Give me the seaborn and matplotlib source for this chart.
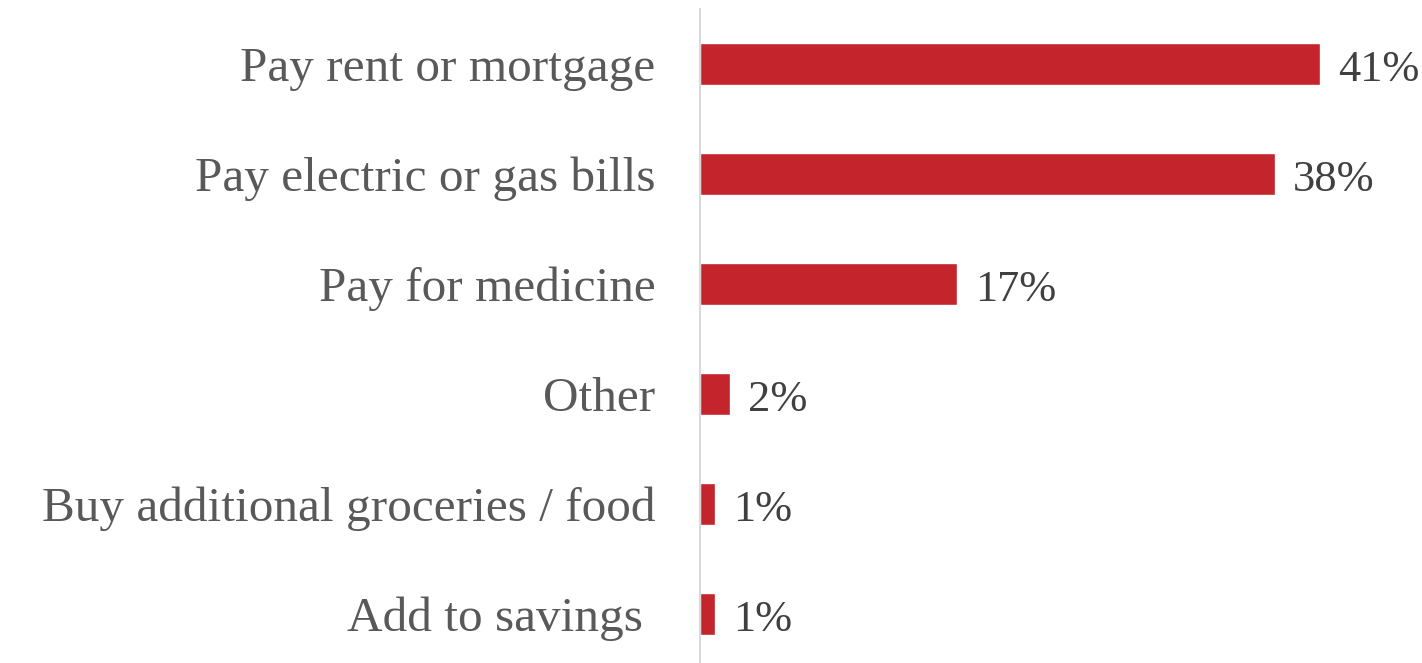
import matplotlib
matplotlib.use("Agg")
import matplotlib.pyplot as plt
import seaborn as sns
import pandas as pd

categories = [
    "Pay rent or mortgage",
    "Pay electric or gas bills",
    "Pay for medicine",
    "Other",
    "Buy additional groceries / food",
    "Add to savings ",
]
values = [41, 38, 17, 2, 1, 1]

df = pd.DataFrame({"category": categories, "value": values})

sns.set_theme(style="white")
plt.rcParams["font.family"] = ["Liberation Serif", "DejaVu Serif"]

fig = plt.figure(figsize=(14.22, 6.63), dpi=100)
ax = fig.add_axes([700 / 1422, -6 / 663, 722 / 1422, 660 / 663])

sns.barplot(data=df, x="value", y="category", orient="h", color="#C4242B",
            saturation=1, width=0.39, ax=ax)

ax.set_xlim(0, 47.75)
ax.set_xlabel("")
ax.set_ylabel("")
ax.set_xticks([])
for side in ["top", "right", "bottom"]:
    ax.spines[side].set_visible(False)
ax.spines["left"].set_color("#D9D9D9")
ax.spines["left"].set_linewidth(1.5)

ax.tick_params(axis="y", length=0, pad=32, labelsize=35.5, labelcolor="#595959")

for container in ax.containers:
    texts = ax.bar_label(container, labels=[f"{v}%" for v in values], padding=13,
                         fontsize=32, color="#404040")
    # nudge the value labels slightly below the bar centre line
    for t in texts:
        x_off, _ = t.xyann
        t.xyann = (x_off, -4)

fig.savefig("out.png", dpi=100)
